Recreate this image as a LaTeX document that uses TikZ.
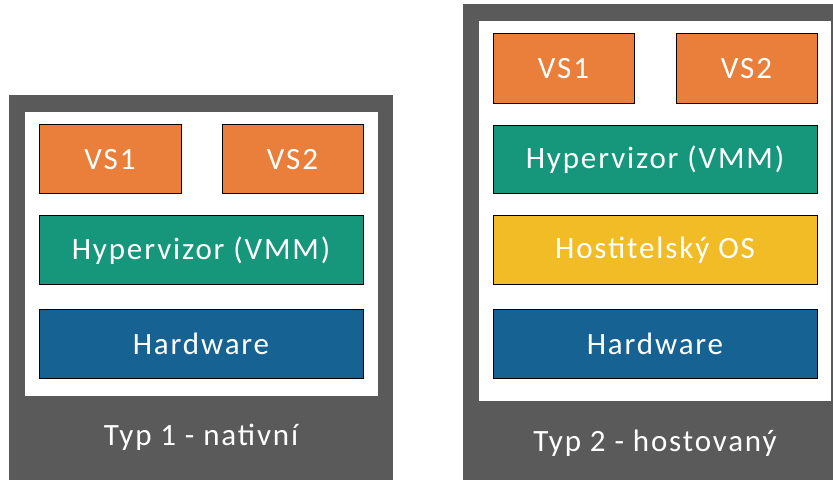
\documentclass[tikz,border=0pt]{standalone}
\usepackage{fontspec}
\setmainfont{Carlito}[LetterSpace=6]
\definecolor{panelgrey}{HTML}{5A5A5A}
\definecolor{vsorange}{HTML}{E97F3A}
\definecolor{hvgreen}{HTML}{16977B}
\definecolor{osyellow}{HTML}{F2BC27}
\definecolor{hwblue}{HTML}{166293}
\begin{document}
\begin{tikzpicture}[x=1pt,y=-1pt,
  panel/.style={fill=panelgrey, draw=none, inner sep=0pt},
  inner/.style={fill=white, draw=none, inner sep=0pt},
  layer/.style={draw=black, line width=1pt, inner sep=0pt, text=white,
    font=\fontsize{31}{34}\selectfont, minimum height=69pt},
  caption/.style={text=white, font=\fontsize{31}{34}\selectfont, inner sep=0pt}]
\useasboundingbox (0,0) rectangle (833,481);
% left panel
\node[panel, minimum width=384pt, minimum height=385pt] (lp) at (201,287.5) {};
\node[inner, minimum width=353pt, minimum height=284pt] (lw) at (201.5,254) {};
\node[layer, fill=vsorange, minimum width=142pt] (lvs1) at (110,159.5) {VS1};
\node[layer, fill=vsorange, minimum width=141pt] (lvs2) at (292.5,159.5) {VS2};
\node[layer, fill=hvgreen, minimum width=324pt] (lhv) at (201,250.5) {Hypervizor (VMM)};
\node[layer, fill=hwblue, minimum width=324pt] (lhw) at (201,343.5) {Hardware};
\node[caption] (lcap) at (201,437) {Typ 1 - nativní};
% right panel
\node[panel, minimum width=370pt, minimum height=476pt] (rp) at (648,242) {};
\node[inner, minimum width=352pt, minimum height=380pt] (rw) at (655,211) {};
\node[layer, fill=vsorange, minimum width=141pt, minimum height=70pt] (rvs1) at (563.5,69) {VS1};
\node[layer, fill=vsorange, minimum width=141pt, minimum height=70pt] (rvs2) at (746.5,69) {VS2};
\node[layer, fill=hvgreen, minimum width=324pt, minimum height=68pt] (rhv) at (655,160) {Hypervizor (VMM)};
\node[layer, fill=osyellow, minimum width=324pt] (ros) at (655,250.5) {Hostitelský OS};
\node[layer, fill=hwblue, minimum width=324pt] (rhw) at (655,343.5) {Hardware};
\node[caption] (rcap) at (655,443) {Typ 2 - hostovaný};
\end{tikzpicture}
\end{document}
